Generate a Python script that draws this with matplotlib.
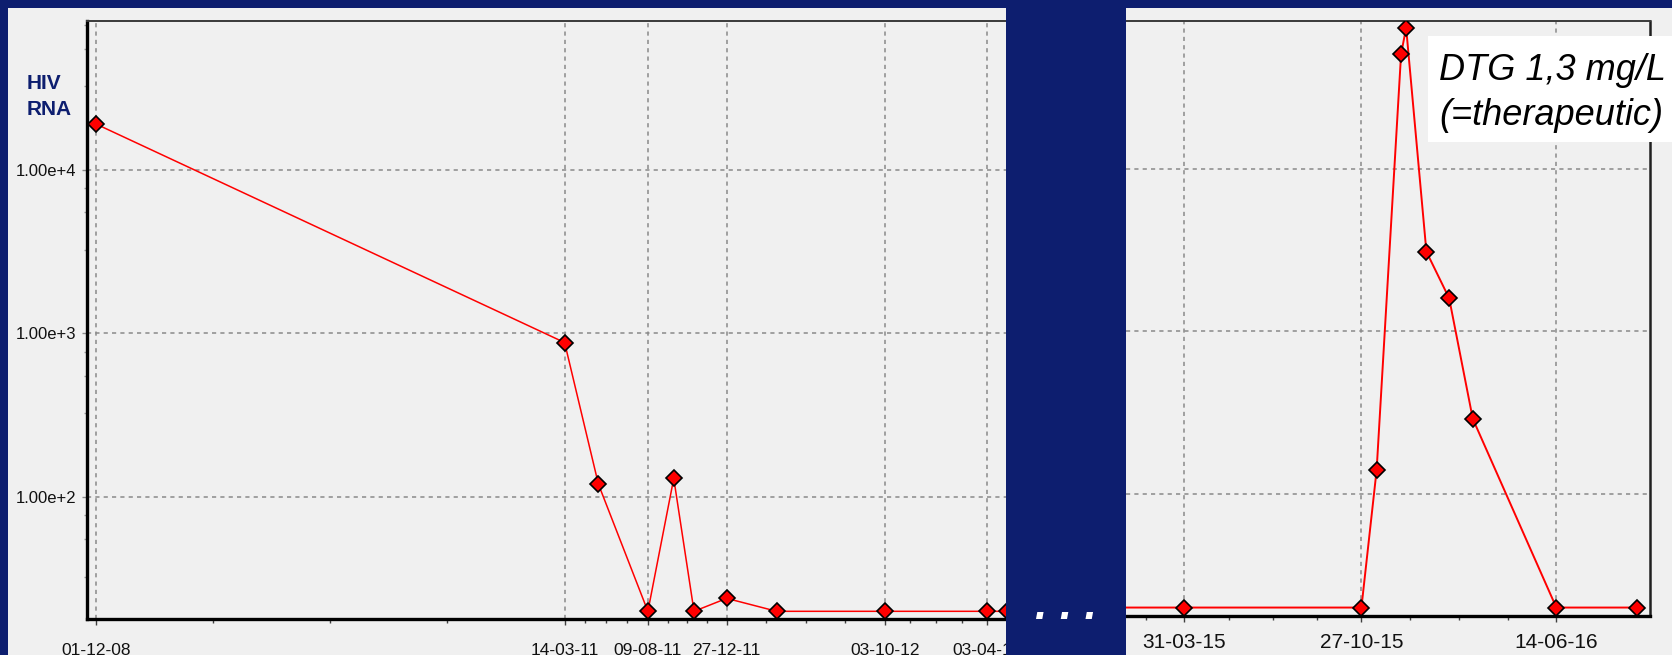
import datetime as dt

import matplotlib
matplotlib.use("Agg")
import matplotlib.pyplot as plt
import matplotlib.dates as mdates
import numpy as np
from matplotlib.patches import Rectangle
from matplotlib.ticker import FixedLocator, FuncFormatter, NullFormatter

plt.rcParams["lines.scale_dashes"] = False

W, H, DPI = 1672, 655, 100
NAVY = "#0d1e6f"
PANEL = "#f0f0f0"
RED = "#ff0000"
GRID = "#8a8a8a"
ARIAL = ["Liberation Sans", "DejaVu Sans"]

# HIV RNA (copies/mL), first treatment period
early_dates = ["2008-12-01", "2011-03-14", "2011-05-13", "2011-08-09", "2011-09-24",
               "2011-10-30", "2011-12-27", "2012-03-25", "2012-10-03", "2013-04-03",
               "2013-05-08"]
early_rna = [19100, 880, 120, 20, 130, 20, 24, 20, 20, 20, 20]
early_ticks = ["2008-12-01", "2011-03-14", "2011-08-09", "2011-12-27", "2012-10-03",
               "2013-04-03"]
early_xlim = ["2008-11-15", "2013-07-06"]

# HIV RNA (copies/mL), later period with the viral rebound
late_dates = ["2014-12-10", "2015-03-31", "2015-10-27", "2015-11-14", "2015-12-13",
              "2015-12-19", "2016-01-12", "2016-02-08", "2016-03-07", "2016-06-14",
              "2016-09-18"]
late_rna = [20, 20, 20, 140, 51000, 74000, 3100, 1600, 290, 20, 20]
late_ticks = ["2014-10-02", "2015-03-31", "2015-10-27", "2016-06-14"]
late_xlim = ["2015-01-21", "2016-10-03"]

decades = [1e2, 1e3, 1e4]
quarter_steps = [3.25, 5.5, 7.75]

annotation = ["DTG 1,3 mg/L", "(=therapeutic)"]


def to_num(seq):
    return mdates.date2num([dt.datetime.strptime(s, "%Y-%m-%d") for s in seq])


def fx(px):
    return px / W


def fy(px):
    return 1 - px / H


def sci(v, _pos=None):
    e = int(round(np.log10(v)))
    return f"{v / 10 ** e:.2f}e+{e}"


def style_axes(ax, dates, values, ticks, xlim, ylim, lw, label_size, label_pad):
    ax.set_facecolor(PANEL)
    ax.set_yscale("log")
    ax.plot(to_num(dates), values, color=RED, lw=lw, marker="D", ms=8.5,
            mfc=RED, mec="black", mew=1.2, zorder=3)
    ax.set_xlim(to_num(xlim))
    ax.set_ylim(*ylim)

    tick_nums = to_num(ticks)
    ax.xaxis.set_major_locator(FixedLocator(tick_nums))
    ax.xaxis.set_major_formatter(mdates.DateFormatter("%d-%m-%y"))
    minor = []
    for a, b in zip(tick_nums[:-1], tick_nums[1:]):
        minor += [a + (b - a) * k / 4 for k in (1, 2, 3)]
    ax.xaxis.set_minor_locator(FixedLocator(minor))
    ax.xaxis.set_minor_formatter(NullFormatter())

    ax.yaxis.set_major_locator(FixedLocator(decades))
    ax.yaxis.set_major_formatter(FuncFormatter(sci))
    ax.yaxis.set_minor_locator(FixedLocator([q * 10 ** k for k in range(1, 5) for q in quarter_steps]))
    ax.yaxis.set_minor_formatter(NullFormatter())

    ax.grid(True, which="major", color=GRID, linestyle=(0, (3.0, 3.0)), linewidth=1.1)
    ax.set_axisbelow(True)

    ax.tick_params(axis="x", which="major", length=4, width=1, color="#404040",
                   pad=label_pad, labelsize=label_size, labelcolor="#111111")
    ax.tick_params(axis="x", which="minor", length=3, width=1, color="#404040")
    for lab in ax.get_xticklabels():
        lab.set_family(ARIAL)

    ax.spines["bottom"].set_linewidth(2.4)
    ax.spines["bottom"].set_color("black")
    ax.spines["top"].set_linewidth(1.4)
    ax.spines["top"].set_color("#3a3a3a")


fig = plt.figure(figsize=(W / DPI, H / DPI), dpi=DPI, facecolor=NAVY)

# light panel inside the navy frame
fig.patches.append(Rectangle((fx(8), 0), 1 - fx(8), fy(8), transform=fig.transFigure,
                             facecolor=PANEL, edgecolor="none", zorder=-2))

# first period
ax1 = fig.add_axes([fx(87), fy(619), fx(1040) - fx(87), fy(21) - fy(619)])
style_axes(ax1, early_dates, early_rna, early_ticks, early_xlim,
           (10 ** 1.254, 10 ** 4.911), 1.1, 12.5, 13)
ax1.spines["right"].set_visible(False)
ax1.spines["left"].set_linewidth(2.4)
ax1.spines["left"].set_color("black")
ax1.tick_params(axis="y", which="major", length=3.5, width=1, color="#8a8a8a",
                pad=4, labelsize=12, labelcolor="#111111")
ax1.tick_params(axis="y", which="minor", length=2, width=1, color="#9a9a9a")
for lab in ax1.get_yticklabels():
    lab.set_family(ARIAL)

# later period
ax2 = fig.add_axes([fx(1126), fy(616), fx(1650) - fx(1126), fy(21) - fy(616)])
style_axes(ax2, late_dates, late_rna, late_ticks, late_xlim,
           (10 ** 1.249, 10 ** 4.911), 1.4, 15, 8.5)
ax2.spines["left"].set_visible(False)
ax2.spines["right"].set_linewidth(1.8)
ax2.spines["right"].set_color("#202020")
ax2.tick_params(axis="y", which="both", length=0, labelleft=False)

# navy separator with ellipsis
fig.patches.append(Rectangle((fx(1006), 0), fx(1126) - fx(1006), 1, transform=fig.transFigure,
                             facecolor=NAVY, edgecolor="none", zorder=5))
fig.text(fx(1066), fy(619), ". . .", ha="center", va="baseline", color="white",
         fontsize=32, fontweight="bold", fontstyle="italic", family=ARIAL, zorder=6)

# y axis title
fig.text(fx(27), fy(89), "HIV", ha="left", va="baseline", color=NAVY,
         fontsize=15, fontweight="bold", family=ARIAL, zorder=6)
fig.text(fx(27), fy(115), "RNA", ha="left", va="baseline", color=NAVY,
         fontsize=15, fontweight="bold", family=ARIAL, zorder=6)

# drug level note
fig.patches.append(Rectangle((fx(1428), fy(142)), 1 - fx(1428), fy(36) - fy(142),
                             transform=fig.transFigure, facecolor="white",
                             edgecolor="none", zorder=6))
fig.text(fx(1439), fy(80), annotation[0], ha="left", va="baseline", color="black",
         fontsize=26, fontstyle="italic", family=ARIAL, zorder=7)
fig.text(fx(1439), fy(125), annotation[1], ha="left", va="baseline", color="black",
         fontsize=26, fontstyle="italic", family=ARIAL, zorder=7)

fig.savefig("out.png", dpi=DPI, facecolor=NAVY)
